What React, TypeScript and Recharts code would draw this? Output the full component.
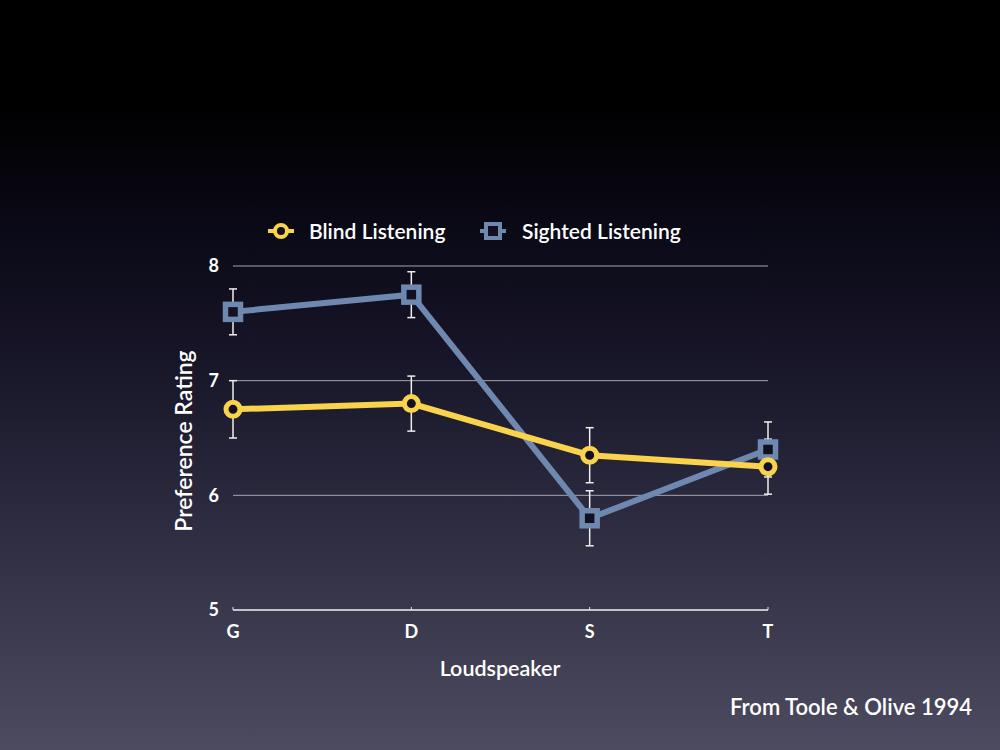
import React from 'react';
import { LineChart, Line, XAxis, YAxis, CartesianGrid, ErrorBar } from 'recharts';

const categories = ['G', 'D', 'S', 'T'];
const blindValues = [6.75, 6.8, 6.35, 6.25];
const sightedValues = [7.6, 7.75, 5.8, 6.4];
const blindErrors = [0.25, 0.24, 0.24, 0.24];
const sightedErrors = [0.2, 0.2, 0.24, 0.24];
const yTicks = [5, 6, 7, 8];

const data = categories.map((c, i) => ({
  name: c,
  blind: blindValues[i],
  sighted: sightedValues[i],
  blindErr: blindErrors[i],
  sightedErr: sightedErrors[i],
}));

const YELLOW = '#f8d34b';
const BLUE = '#6f88b0';
const DARK = '#121021';
const FONT = 'Lato, "Open Sans", sans-serif';

const CircleDot = (props: any) => {
  const { cx, cy, index } = props;
  return <circle key={`c${index}`} cx={cx} cy={cy} r={7} stroke={YELLOW} strokeWidth={5} fill={DARK} />;
};
const SquareDot = (props: any) => {
  const { cx, cy, index } = props;
  return <rect key={`s${index}`} x={cx - 7.5} y={cy - 7.5} width={15} height={15} stroke={BLUE} strokeWidth={5.5} fill={DARK} />;
};

export default function App() {
  const textStyle: React.CSSProperties = {
    position: 'absolute',
    color: '#ffffff',
    fontFamily: FONT,
    fontWeight: 600,
    whiteSpace: 'nowrap',
  };
  return (
    <div
      style={{
        position: 'absolute',
        left: 0,
        top: 0,
        width: 1000,
        height: 750,
        overflow: 'hidden',
        background:
          'linear-gradient(to bottom, #000000 0%, #000000 14%, #0a0916 30%, #19172a 50%, #2e2c40 70%, #4d4b5f 100%)',
      }}
    >
      <LineChart
        width={1000}
        height={750}
        data={data}
        margin={{ top: 266, right: 232, bottom: 77, left: 0 }}
      >
        <CartesianGrid vertical={false} stroke="#a4a4ae" strokeWidth={1} />
        <XAxis
          dataKey="name"
          axisLine={{ stroke: '#e0e0e6', strokeWidth: 1.5 }}
          tickLine={{ stroke: '#e0e0e6' }}
          tickSize={-3}
          tickMargin={18}
          height={63}
          tick={{ fill: '#ffffff', fontSize: 18, fontFamily: FONT, fontWeight: 700 }}
        />
        <YAxis
          width={233}
          domain={[5, 8]}
          ticks={yTicks}
          axisLine={false}
          tickLine={false}
          tickSize={0}
          tickMargin={14}
          tick={{ fill: '#ffffff', fontSize: 18, fontFamily: FONT, fontWeight: 700 }}
        />
        <Line
          dataKey="sighted"
          stroke={BLUE}
          strokeWidth={6}
          dot={<SquareDot />}
          activeDot={false}
          legendType="none"
          isAnimationActive={false}
        />
        <Line
          dataKey="blind"
          stroke={YELLOW}
          strokeWidth={6}
          dot={<CircleDot />}
          activeDot={false}
          legendType="none"
          isAnimationActive={false}
        />
        <Line
          dataKey="sighted"
          stroke="none"
          strokeOpacity={0}
          dot={false}
          activeDot={false}
          legendType="none"
          isAnimationActive={false}
        >
          <ErrorBar dataKey="sightedErr" width={4} stroke="#eeeeee" strokeWidth={1.5} direction="y" isAnimationActive={false} />
        </Line>
        <Line
          dataKey="blind"
          stroke="none"
          strokeOpacity={0}
          dot={false}
          activeDot={false}
          legendType="none"
          isAnimationActive={false}
        >
          <ErrorBar dataKey="blindErr" width={4} stroke="#eeeeee" strokeWidth={1.5} direction="y" isAnimationActive={false} />
        </Line>
      </LineChart>

      {/* Legend */}
      <div style={{ position: 'absolute', left: 266, top: 217, display: 'flex', alignItems: 'center' }}>
        <svg width={30} height={28}>
          <line x1={2} y1={14} x2={28} y2={14} stroke={YELLOW} strokeWidth={4} />
          <circle cx={15} cy={14} r={6} stroke={YELLOW} strokeWidth={4} fill={DARK} />
        </svg>
      </div>
      <div style={{ ...textStyle, left: 309, top: 217, fontSize: 21, lineHeight: '28px' }}>Blind Listening</div>
      <div style={{ position: 'absolute', left: 478, top: 217 }}>
        <svg width={30} height={28}>
          <line x1={2} y1={14} x2={28} y2={14} stroke={BLUE} strokeWidth={4} />
          <rect x={8} y={7} width={14} height={14} stroke={BLUE} strokeWidth={4} fill={DARK} />
        </svg>
      </div>
      <div style={{ ...textStyle, left: 522, top: 217, fontSize: 21, lineHeight: '28px' }}>Sighted Listening</div>

      {/* Y axis title */}
      <div
        style={{
          ...textStyle,
          left: 183,
          top: 441,
          fontSize: 23,
          lineHeight: '26px',
          transform: 'translate(-50%, -50%) rotate(-90deg)',
        }}
      >
        Preference Rating
      </div>

      {/* X axis title */}
      <div
        style={{
          ...textStyle,
          left: 500,
          top: 668,
          fontSize: 21.5,
          lineHeight: '26px',
          transform: 'translate(-50%, -50%)',
        }}
      >
        Loudspeaker
      </div>

      {/* Source note */}
      <div style={{ ...textStyle, right: 28, top: 693, fontSize: 22, lineHeight: '28px' }}>From Toole &amp; Olive 1994</div>
    </div>
  );
}
